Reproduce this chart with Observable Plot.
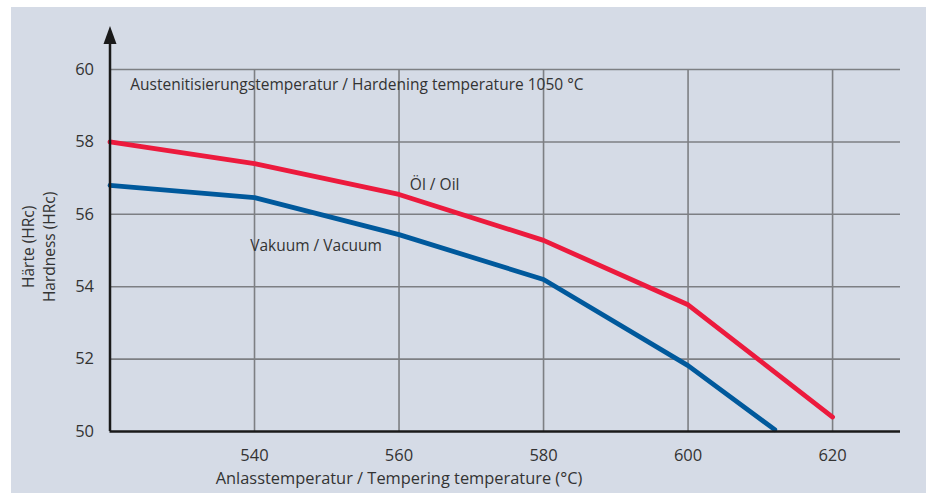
<!DOCTYPE html>
<html>
<head>
<meta charset="utf-8">
<script src="https://cdn.jsdelivr.net/npm/d3@7"></script>
<script src="https://cdn.jsdelivr.net/npm/@observablehq/plot@0.6"></script>
<style>
  html, body { margin: 0; padding: 0; background: #ffffff; }
  #panel { position: absolute; left: 11px; top: 7px; width: 915px; height: 486px; background: #d5dbe6; }
  #panel svg { display: block; }
</style>
</head>
<body>
<div id="panel"></div>
<script>
// Tempering temperature (°C)
const temps = [520, 540, 560, 580, 600, 620];
// Hardness after oil quench (HRc)
const oilHardness = [58.0, 57.4, 56.55, 55.28, 53.5, 50.4];
// Vacuum hardening: temperatures and hardness (HRc)
const vacTemps = [520, 540, 560, 580, 600, 612];
const vacHardness = [56.8, 56.46, 55.44, 54.2, 51.82, 50.05];

const xTicks = [540, 560, 580, 600, 620];
const yTicks = [50, 52, 54, 56, 58, 60];
const yGrid = [52, 54, 56, 58, 60];

const labels = {
  title: "Austenitisierungstemperatur / Hardening temperature 1050 °C",
  oil: "Öl / Oil",
  vac: "Vakuum / Vacuum",
  xLabel: "Anlasstemperatur / Tempering temperature (°C)",
  yLabel1: "Härte (HRc)",
  yLabel2: "Hardness (HRc)"
};

const oil = temps.map((t, i) => ({t, h: oilHardness[i]}));
const vac = vacTemps.map((t, i) => ({t, h: vacHardness[i]}));

const xMin = 520, xMax = 629.4, yMin = 50, yTop = 61.2;
const gridColor = "#7d7f83";
const textColor = "#333333";
const fs = 15.5;

// filled arrow head with its tip at the point
const arrowHead = {
  draw(ctx) {
    ctx.moveTo(0, 0);
    ctx.lineTo(6.5, 18);
    ctx.lineTo(-6.5, 18);
    ctx.closePath();
  }
};

const chart = Plot.plot({
  width: 915,
  height: 486,
  marginLeft: 98.5,
  marginRight: 26,
  marginTop: 18.6,
  marginBottom: 62,
  style: {background: "transparent", fontFamily: "'Open Sans', sans-serif", color: textColor},
  x: {domain: [xMin, xMax]},
  y: {domain: [yMin, yTop]},
  marks: [
    Plot.ruleY(yGrid, {x1: xMin, x2: xMax, stroke: gridColor, strokeWidth: 1.6}),
    Plot.ruleX(xTicks, {y1: 50, y2: 60, stroke: gridColor, strokeWidth: 1.6}),
    Plot.line(vac, {x: "t", y: "h", stroke: "#00599c", strokeWidth: 4.8, strokeLinejoin: "round"}),
    Plot.line(oil, {x: "t", y: "h", stroke: "#ec1a3d", strokeWidth: 4.8, strokeLinejoin: "round"}),
    Plot.ruleY([yMin], {x1: xMin, x2: xMax, stroke: "#1a1a1a", strokeWidth: 2.5}),
    Plot.ruleX([xMin], {y1: yMin, y2: 60.8, stroke: "#1a1a1a", strokeWidth: 2.5}),
    Plot.dot([xMin], {x: d => d, y: yTop, symbol: arrowHead, fill: "#1a1a1a", stroke: null}),
    Plot.axisX({ticks: xTicks, tickSize: 0, tickPadding: 18, fontSize: 16.5, label: null, tickFormat: d => String(d)}),
    Plot.axisY({ticks: yTicks, tickSize: 0, tickPadding: 16, fontSize: 16.5, label: null}),
    Plot.text([labels.title], {x: 522.8, y: 59.58, text: d => d, textAnchor: "start", fontSize: fs, fill: textColor}),
    Plot.text([labels.oil], {x: 561.5, y: 56.8, text: d => d, textAnchor: "start", fontSize: fs, fill: textColor}),
    Plot.text([labels.vac], {x: 539.4, y: 55.12, text: d => d, textAnchor: "start", fontSize: fs, fill: textColor}),
    Plot.text([labels.xLabel], {x: 560, frameAnchor: "bottom", dy: 47, lineAnchor: "middle", textAnchor: "middle", text: d => d, fontSize: 16.4, fill: textColor}),
    Plot.text([labels.yLabel1], {y: 55.1, frameAnchor: "left", dx: -80.5, rotate: -90, textAnchor: "middle", lineAnchor: "middle", text: d => d, fontSize: fs, fill: textColor}),
    Plot.text([labels.yLabel2], {y: 55.1, frameAnchor: "left", dx: -59.5, rotate: -90, textAnchor: "middle", lineAnchor: "middle", text: d => d, fontSize: fs, fill: textColor})
  ]
});
document.getElementById("panel").appendChild(chart);
</script>
</body>
</html>
